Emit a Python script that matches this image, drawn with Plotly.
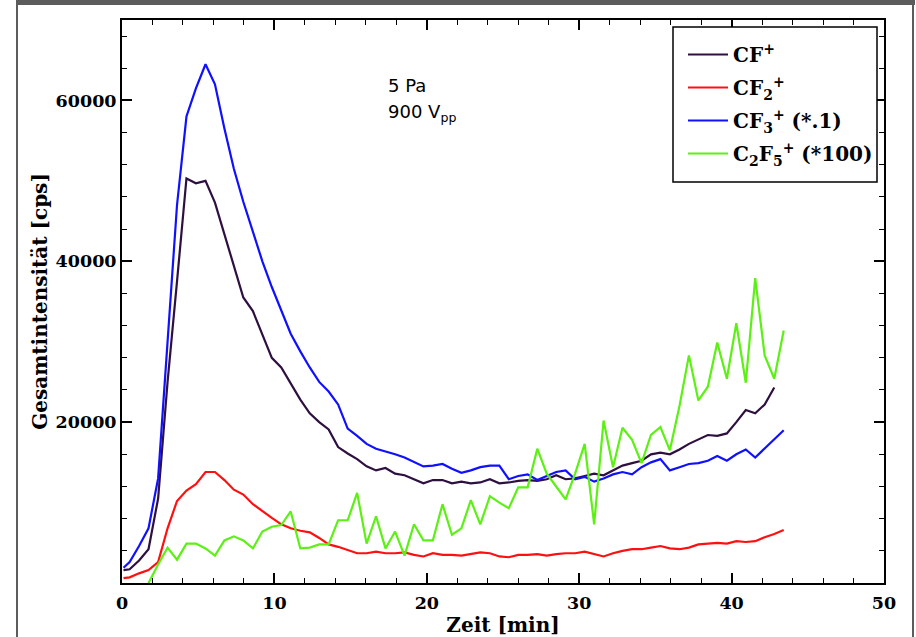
import plotly.graph_objects as go

# Measurement times [min]
t_min = [0.10, 0.50, 1.12, 1.74, 2.37, 2.99, 3.61, 4.23, 4.85, 5.48, 6.10, 6.72,
         7.34, 7.96, 8.59, 9.21, 9.83, 10.45, 11.07, 11.70, 12.32, 12.94, 13.56,
         14.18, 14.81, 15.43, 16.05, 16.67, 17.29, 17.92, 18.54, 19.16, 19.78,
         20.40, 21.03, 21.65, 22.27, 22.89, 23.51, 24.14, 24.76, 25.38, 26.00,
         26.62, 27.25, 27.87, 28.49, 29.11, 29.73, 30.36, 30.98, 31.60, 32.22,
         32.84, 33.47, 34.09, 34.71, 35.33, 35.95, 36.58, 37.20, 37.82, 38.44,
         39.06, 39.69, 40.31, 40.93, 41.55, 42.17, 42.80, 43.42]

# CF+ total intensity [cps]
cf = [1600, 1700, 2800, 4200, 10500, 25000, 37500, 50300, 49700, 50000, 47300,
      43400, 39600, 35500, 33800, 30900, 28000, 26800, 24800, 22800, 21100,
      20000, 19100, 16900, 16100, 15400, 14500, 14000, 14300, 13600, 13400,
      12900, 12400, 12800, 12800, 12400, 12600, 12400, 12500, 12900, 12400,
      12500, 12700, 12800, 12700, 12900, 13400, 12900, 13000, 13300, 13600,
      13400, 14000, 14600, 14900, 15200, 16000, 16200, 16000, 16600, 17300,
      17800, 18400, 18300, 18600, 20000, 21500, 21100, 22200, 24300, None]

# CF2+ total intensity [cps]
cf2 = [600, 700, 1200, 1600, 2600, 6800, 10200, 11500, 12300, 13800, 13800,
       12800, 11600, 11000, 9800, 8900, 8100, 7300, 6800, 6500, 6300, 5600,
       4800, 4500, 4100, 3700, 3700, 3900, 3700, 3700, 3800, 3500, 3300, 3700,
       3500, 3500, 3400, 3600, 3800, 3700, 3300, 3200, 3500, 3500, 3600, 3400,
       3600, 3700, 3700, 3900, 3600, 3300, 3700, 4000, 4200, 4200, 4400, 4600,
       4300, 4200, 4400, 4800, 4900, 5000, 4900, 5200, 5100, 5200, 5700, 6100,
       6600]

# CF3+ total intensity, scaled by 0.1 [cps]
cf3_x01 = [1900, 2600, 4600, 6800, 13000, 30000, 47000, 58000, 61500, 64500,
           62000, 56500, 51500, 47400, 43800, 40000, 36800, 33900, 31000, 28800,
           26800, 25000, 23800, 22200, 19200, 18300, 17300, 16700, 16400, 16000,
           15600, 15000, 14500, 14600, 14800, 14200, 13700, 14000, 14400, 14600,
           14600, 12900, 13300, 13500, 12800, 13300, 13800, 14000, 12900, 13200,
           12600, 13000, 13500, 13800, 13500, 14400, 15000, 15400, 14000, 14400,
           14800, 14900, 15200, 15800, 15200, 16000, 16600, 15600, 16700, 17900,
           19000]

# C2F5+ total intensity, scaled by 100 [cps]
c2f5_x100 = [None, None, -2000, 0, 2300, 4400, 2900, 4900, 4900, 4300, 3400,
             5300, 5800, 5300, 4300, 6400, 7000, 7200, 8900, 4300, 4400, 4800,
             4800, 7800, 7800, 11200, 4900, 8300, 4300, 6400, 3400, 7300, 5300,
             5300, 9800, 6000, 6800, 10300, 7300, 10800, 10000, 9300, 11900,
             11900, 16700, 13600, 12000, 10400, 13600, 17300, 7300, 20200,
             14400, 19300, 17800, 14900, 18400, 19400, 16500, 22000, 28300,
             22700, 24400, 29900, 25400, 32300, 24900, 37900, 28300, 25400,
             31400]

series = [
    ("<b>CF<sup>+</sup></b>", cf, "#2e1040"),
    ("<b>CF<sub>2</sub><sup>+</sup></b>", cf2, "#ff1010"),
    ("<b>CF<sub>3</sub><sup>+</sup> (*.1)</b>", cf3_x01, "#1010ff"),
    ("<b>C<sub>2</sub>F<sub>5</sub><sup>+</sup> (*100)</b>", c2f5_x100, "#5cf014"),
]

fig = go.Figure()
for i, (name, vals, color) in enumerate(series):
    fig.add_trace(go.Scatter(
        x=t_min, y=vals, mode="lines", name=name,
        line=dict(color=color, width=2.2),
        legendgroup=f"g{i}",
    ))

W, H = 916, 637
L, R, T, B = 122, 884, 20, 583  # plot box in pixels


def px_x(px):
    return (px - L) / (R - L)


def px_y(py):
    return (B - py) / (B - T)


serif = "DejaVu Serif"
axis_common = dict(
    showline=True, linecolor="black", linewidth=2, mirror="ticks",
    ticks="inside", ticklen=10, tickwidth=1.6, tickcolor="black",
    showgrid=False, zeroline=False, automargin=False,
    tickfont=dict(family=serif, size=17.5, color="black", weight="bold"),
)

fig.update_layout(
    width=W, height=H,
    margin=dict(l=L, r=W - R, t=T, b=H - B, pad=0),
    paper_bgcolor="white", plot_bgcolor="white",
    xaxis=dict(
        range=[0, 50], dtick=10, tick0=0,
        ticklabelstandoff=3,
        minor=dict(dtick=2, ticklen=5, tickwidth=1.4, tickcolor="black",
                   ticks="inside"),
        title=dict(text="Zeit [min]", standoff=14,
                   font=dict(family=serif, size=20, color="black",
                             weight="bold")),
        **axis_common,
    ),
    yaxis=dict(
        range=[0, 70000],
        tickvals=[0, 20000, 40000, 60000],
        ticktext=["", "20000", "40000", "60000"],
        minor=dict(dtick=4000, tick0=0, ticklen=5, tickwidth=1.4,
                   tickcolor="black", ticks="inside"),
        title=dict(text="Gesamtintensität [cps]", standoff=3,
                   font=dict(family=serif, size=20, color="black",
                             weight="bold")),
        **axis_common,
    ),
    legend=dict(
        x=px_x(683), y=px_y(35), xanchor="left", yanchor="top",
        bgcolor="rgba(0,0,0,0)", borderwidth=0,
        font=dict(family=serif, size=20, color="black"),
        tracegroupgap=4, itemwidth=40,
    ),
    showlegend=True,
)

# Legend frame
fig.add_shape(type="rect", xref="paper", yref="paper",
              x0=px_x(673), x1=px_x(877), y0=px_y(182), y1=px_y(27),
              fillcolor="white", line=dict(color="black", width=1.5),
              layer="above")

# Plasma conditions
cond_font = dict(family="DejaVu Sans", size=18, color="black")
fig.add_annotation(x=17.3, y=61900, xref="x", yref="y", text="5 Pa",
                   showarrow=False, xanchor="left", yanchor="middle",
                   font=cond_font)
fig.add_annotation(x=17.3, y=58400, xref="x", yref="y",
                   text="900 V<sub>pp</sub>",
                   showarrow=False, xanchor="left", yanchor="middle",
                   font=cond_font)

# Outer frame around the figure
frame = "#5c5c5c"
fig.add_shape(type="rect", xref="paper", yref="paper",
              x0=px_x(16), x1=px_x(915), y0=px_y(5), y1=px_y(0),
              fillcolor=frame, line=dict(width=0), layer="above")
fig.add_shape(type="line", xref="paper", yref="paper",
              x0=px_x(17), x1=px_x(17), y0=px_y(4), y1=px_y(H),
              line=dict(color=frame, width=2))
fig.add_shape(type="line", xref="paper", yref="paper",
              x0=px_x(913), x1=px_x(913), y0=px_y(4), y1=px_y(H),
              line=dict(color=frame, width=2))

fig.write_html("out.html")
